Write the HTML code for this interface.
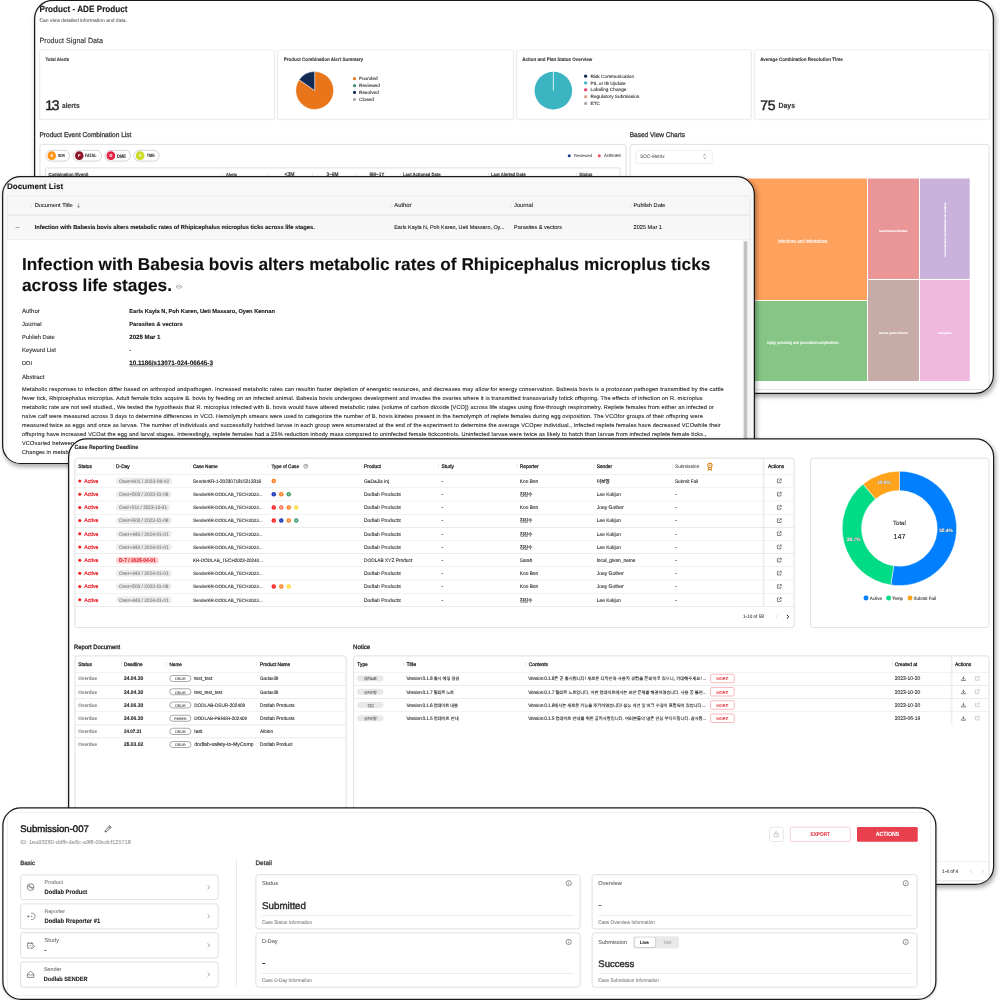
<!DOCTYPE html>
<html lang="en">
<head>
<meta charset="utf-8">
<title>Dashboard overview</title>
<style>
*{margin:0;padding:0}
html,body{width:1000px;height:1000px;overflow:hidden;background:#fff}
body{position:relative;font-family:"Liberation Sans","Noto Sans CJK KR",sans-serif}
main{position:absolute;left:0;top:0;width:4000px;height:4000px;transform:scale(0.25);transform-origin:0 0}

.card{position:absolute;box-sizing:border-box;overflow:hidden;background:#fff;border:5px solid #1a1a1a}
.shadow{position:absolute;box-sizing:border-box}
.in{position:absolute;width:4000px;height:4000px}
.in div,.in svg{position:absolute}
.in svg{overflow:visible}
.t{white-space:nowrap;-webkit-text-stroke:0.4px currentColor;text-rendering:geometricPrecision}
.pcard{background:#fff;border:2.8px solid #e0e0e0;border-radius:8px;box-sizing:border-box;box-shadow:0 2px 5.2px rgba(0,0,0,0.08)}
.pcard2{background:#fff;border:3px solid #d6d6d6;border-radius:12px;box-sizing:border-box}
.chip{background:#fff;border:3px solid #c6c6c6;border-radius:23px;box-sizing:border-box}
</style>
</head>
<body>
<main>
<div class="shadow" style="left:136px;top:-1.2px;width:3840.4px;height:1577.2px;border-radius:76px;box-shadow:4.8px 10px 18px rgba(0,0,0,0.32)"></div>
<section class="card" id="product" style="left:136px;top:-1.2px;width:3840.4px;height:1577.2px;border-radius:76px;background:#fff;border-width:5px"><div class="in" style="left:-141px;top:-3.8px">
<div class="t" style="top:16.4px;font-size:35.864px;line-height:40px;color:#151515;font-weight:700;transform:scaleX(0.9091);transform-origin:0 50%;left:158px;">Product - ADE Product</div>
<div class="t" style="top:69.4px;font-size:20.92px;line-height:23px;color:#6a6a6a;transform:scaleX(0.9524);transform-origin:0 50%;left:158px;">Can view detailed information and data.</div>
<div class="t" style="top:145.4px;font-size:29.984px;line-height:33px;color:#2b2b2b;transform:scaleX(0.9524);transform-origin:0 50%;left:158px;">Product Signal Data</div>
<div class="pcard" style="left:158.4px;top:197.6px;width:939.6px;height:280.4px;"></div>
<div class="pcard" style="left:1110px;top:197.6px;width:943.6px;height:280.4px;"></div>
<div class="pcard" style="left:2065.6px;top:197.6px;width:939.6px;height:280.4px;"></div>
<div class="pcard" style="left:3017.6px;top:197.6px;width:940.4px;height:280.4px;"></div>
<div class="t" style="top:226.4px;font-size:19.428px;line-height:22px;color:#3a3a3a;font-weight:700;transform:scaleX(0.9091);transform-origin:0 50%;left:182.4px;">Total Alerts</div>
<div class="t" style="top:389.4px;font-size:56px;line-height:63px;color:#262626;-webkit-text-stroke:1.8px currentColor;letter-spacing:-5.744px;left:181.2px;">13</div>
<div class="t" style="top:405.4px;font-size:29.348px;line-height:33px;color:#333;font-weight:700;transform:scaleX(0.9091);transform-origin:0 50%;left:247.6px;">alerts</div>
<div class="t" style="top:226.4px;font-size:19.916px;line-height:22px;color:#3a3a3a;font-weight:700;transform:scaleX(0.9091);transform-origin:0 50%;left:1134.8px;">Product Combination Alert Summary</div>
<div class="t" style="top:226.4px;font-size:19.724px;line-height:22px;color:#3a3a3a;font-weight:700;transform:scaleX(0.9091);transform-origin:0 50%;left:2088.8px;">Action and Plan Status Overview</div>
<div class="t" style="top:226.4px;font-size:19.796px;line-height:22px;color:#3a3a3a;font-weight:700;transform:scaleX(0.9091);transform-origin:0 50%;left:3040.8px;">Average Combination Resolution Time</div>
<div class="t" style="top:389.4px;font-size:56px;line-height:63px;color:#262626;-webkit-text-stroke:1.8px currentColor;letter-spacing:-1.144px;left:3041.2px;">75</div>
<div class="t" style="top:404.4px;font-size:30.552px;line-height:34px;color:#333;font-weight:700;transform:scaleX(0.9091);transform-origin:0 50%;left:3114.4px;">Days</div>
<svg style="left:1160px;top:264px" width="200" height="200" viewBox="290 66 50 50"><path d="M314.7 90.5L314.7 71.6A18.9 18.9 0 1 1 299.15 79.76Z" fill="#e8751a" stroke="#fff" stroke-width="0.45"/><path d="M314.7 90.5L299.15 79.76A18.9 18.9 0 0 1 314.7 71.6Z" fill="#132b54" stroke="#fff" stroke-width="0.45"/></svg>
<div style="left:1411.6px;top:308px;width:12.8px;height:12.8px;background:#e8751a;border-radius:50%"></div>
<div class="t" style="top:303.4px;font-size:18.8px;line-height:21px;color:#2e2e2e;letter-spacing:0.12px;left:1436px;">Founded</div>
<div style="left:1411.6px;top:335.72px;width:12.8px;height:12.8px;background:#3d8a6c;border-radius:50%"></div>
<div class="t" style="top:331.4px;font-size:18.8px;line-height:21px;color:#2e2e2e;letter-spacing:0.12px;left:1436px;">Reviewed</div>
<div style="left:1411.6px;top:363.44px;width:12.8px;height:12.8px;background:#132b54;border-radius:50%"></div>
<div class="t" style="top:359.4px;font-size:18.8px;line-height:21px;color:#2e2e2e;letter-spacing:0.12px;left:1436px;">Resolved</div>
<div style="left:1411.6px;top:391.16px;width:12.8px;height:12.8px;background:#a9a9a9;border-radius:50%"></div>
<div class="t" style="top:387.4px;font-size:18.8px;line-height:21px;color:#2e2e2e;letter-spacing:0.12px;left:1436px;">Closed</div>
<svg style="left:2120px;top:264px" width="200" height="200" viewBox="530 66 50 50"><circle cx="553.35" cy="90.6" r="18.8" fill="#3ab5c1"/><path d="M553.35 90.6L553.35 71.8" stroke="#fff" stroke-width="0.8"/></svg>
<div style="left:2336px;top:298px;width:12.8px;height:12.8px;background:#132b54;border-radius:50%"></div>
<div class="t" style="top:295.4px;font-size:18.8px;line-height:21px;color:#2e2e2e;letter-spacing:0.12px;left:2362px;">Risk Communication</div>
<div style="left:2336px;top:325.32px;width:12.8px;height:12.8px;background:#3ab5c1;border-radius:50%"></div>
<div class="t" style="top:323.4px;font-size:18.8px;line-height:21px;color:#2e2e2e;letter-spacing:0.12px;left:2362px;">PIL or IB Update</div>
<div style="left:2336px;top:352.64px;width:12.8px;height:12.8px;background:#f0326e;border-radius:50%"></div>
<div class="t" style="top:347.4px;font-size:18.8px;line-height:21px;color:#2e2e2e;letter-spacing:0.12px;left:2362px;">Labeling Change</div>
<div style="left:2336px;top:379.96px;width:12.8px;height:12.8px;background:#dba58a;border-radius:50%"></div>
<div class="t" style="top:375.4px;font-size:18.8px;line-height:21px;color:#2e2e2e;letter-spacing:0.12px;left:2362px;">Regulatory Submission</div>
<div style="left:2336px;top:407.28px;width:12.8px;height:12.8px;background:#a9a9a9;border-radius:50%"></div>
<div class="t" style="top:403.4px;font-size:18.8px;line-height:21px;color:#2e2e2e;letter-spacing:0.12px;left:2362px;">ETC</div>
<div class="t" style="top:523.4px;font-size:27.556px;line-height:31px;color:#3a3a3a;-webkit-text-stroke:1.2px currentColor;transform:scaleX(0.9524);transform-origin:0 50%;left:158px;">Product Event Combination List</div>
<div class="pcard2" style="left:158.4px;top:576.2px;width:2348px;height:1040px;"></div>
<div class="chip" style="left:180.8px;top:600px;width:98px;height:46px;"></div>
<div style="left:189.6px;top:605.4px;width:34.8px;height:34.8px;background:#ff9416;border-radius:50%"></div>
<div class="t" style="top:614.4px;font-size:16px;line-height:17px;color:#fff;font-weight:700;left:-393px;width:1200px;text-align:center;">S</div>
<div class="t" style="top:613.4px;font-size:16.6px;line-height:19px;color:#333;font-weight:700;transform:scaleX(0.7874);transform-origin:0 50%;left:232px;">SDR</div>
<div class="chip" style="left:290.8px;top:600px;width:116.8px;height:46px;"></div>
<div style="left:299.6px;top:605.4px;width:34.8px;height:34.8px;background:#8e1525;border-radius:50%"></div>
<div class="t" style="top:614.4px;font-size:16px;line-height:17px;color:#fff;font-weight:700;left:-283px;width:1200px;text-align:center;">F</div>
<div class="t" style="top:611.4px;font-size:19.172px;line-height:21px;color:#333;font-weight:700;transform:scaleX(0.7874);transform-origin:0 50%;left:340px;">FATAL</div>
<div class="chip" style="left:417.6px;top:600px;width:106.4px;height:46px;"></div>
<div style="left:426.4px;top:605.4px;width:34.8px;height:34.8px;background:#e42546;border-radius:50%"></div>
<div class="t" style="top:614.4px;font-size:16px;line-height:17px;color:#fff;font-weight:700;left:-156.2px;width:1200px;text-align:center;">D</div>
<div class="t" style="top:614.4px;font-size:20.344px;line-height:22px;color:#333;font-weight:700;transform:scaleX(0.7874);transform-origin:0 50%;left:468.4px;">DME</div>
<div class="chip" style="left:534.4px;top:600px;width:104px;height:46px;"></div>
<div style="left:543.2px;top:605.4px;width:34.8px;height:34.8px;background:#cddb2a;border-radius:50%"></div>
<div class="t" style="top:614.4px;font-size:16px;line-height:17px;color:#fff;font-weight:700;left:-39.4px;width:1200px;text-align:center;">T</div>
<div class="t" style="top:611.4px;font-size:19.252px;line-height:21px;color:#333;font-weight:700;transform:scaleX(0.7874);transform-origin:0 50%;left:587.2px;">TME</div>
<div style="left:2271.2px;top:617.2px;width:12px;height:12px;background:#1c3f94;border-radius:50%"></div>
<div class="t" style="top:612.4px;font-size:17.216px;line-height:20px;color:#555;transform:scaleX(0.9524);transform-origin:0 50%;left:2296px;">Reviewed</div>
<div style="left:2391.2px;top:617.2px;width:12px;height:12px;background:#ef4a5f;border-radius:50%"></div>
<div class="t" style="top:612.4px;font-size:17.916px;line-height:20px;color:#555;transform:scaleX(0.9524);transform-origin:0 50%;left:2416px;">Actioned</div>
<div class="pcard2" style="left:181.2px;top:669.6px;width:2301.2px;height:920px;border-radius:6px"></div>
<div class="t" style="top:688.4px;font-size:17.956px;line-height:20px;color:#333;font-weight:700;transform:scaleX(0.9091);transform-origin:0 50%;left:194.4px;">Combination (Event)</div>
<div class="t" style="top:689.4px;font-size:17.076px;line-height:19px;color:#333;font-weight:700;transform:scaleX(0.9091);transform-origin:0 50%;left:904px;">Alerts</div>
<div class="t" style="top:684.4px;font-size:22.3px;line-height:25px;color:#333;font-weight:700;transform:scaleX(0.9091);transform-origin:0 50%;left:1138px;">&lt;3M</div>
<div class="t" style="top:685.4px;font-size:20.876px;line-height:23px;color:#333;font-weight:700;transform:scaleX(0.9091);transform-origin:0 50%;left:1306px;">3~6M</div>
<div class="t" style="top:685.4px;font-size:20.648px;line-height:23px;color:#333;font-weight:700;transform:scaleX(0.9091);transform-origin:0 50%;left:1478px;">6M~1Y</div>
<div class="t" style="top:687.4px;font-size:18.292px;line-height:21px;color:#333;font-weight:700;transform:scaleX(0.9091);transform-origin:0 50%;left:1612px;">Last Actioned Date</div>
<div class="t" style="top:687.4px;font-size:18.54px;line-height:21px;color:#333;font-weight:700;transform:scaleX(0.9091);transform-origin:0 50%;left:1964px;">Last Alerted Date</div>
<div class="t" style="top:687.4px;font-size:19.004px;line-height:21px;color:#333;font-weight:700;transform:scaleX(0.9091);transform-origin:0 50%;left:2317.2px;">Status</div>
<div style="left:889px;top:692.8px;width:2px;height:16px;background:#d8d8d8"></div>
<div style="left:1069px;top:692.8px;width:2px;height:16px;background:#d8d8d8"></div>
<div style="left:1249px;top:692.8px;width:2px;height:16px;background:#d8d8d8"></div>
<div style="left:1421px;top:692.8px;width:2px;height:16px;background:#d8d8d8"></div>
<div style="left:1601px;top:692.8px;width:2px;height:16px;background:#d8d8d8"></div>
<div style="left:1953px;top:692.8px;width:2px;height:16px;background:#d8d8d8"></div>
<div style="left:2304.2px;top:692.8px;width:2px;height:16px;background:#d8d8d8"></div>
<div class="t" style="top:523.4px;font-size:27.32px;line-height:31px;color:#3a3a3a;-webkit-text-stroke:1.2px currentColor;transform:scaleX(0.9524);transform-origin:0 50%;left:2519.2px;">Based View Charts</div>
<div class="pcard2" style="left:2519.2px;top:576.2px;width:1438.8px;height:983.6px;"></div>
<div style="left:2541.6px;top:600.8px;width:304.8px;height:50.4px;border:2px solid #dcdcdc;border-radius:10px;background:#fff"></div>
<div class="t" style="top:614.4px;font-size:19.544px;line-height:22px;color:#666;transform:scaleX(0.9524);transform-origin:0 50%;left:2560.8px;">SOC-Metrix</div>
<svg style="left:2809.6px;top:613.2px" width="17.6" height="25.6" viewBox="0 0 4.4 6.4"><path d="M0.9 2.3L2.2 0.9L3.5 2.3M0.9 4.1L2.2 5.5L3.5 4.1" fill="none" stroke="#555" stroke-width="0.55"/></svg>
<div style="left:2560px;top:714px;width:907.6px;height:485.6px;background:#fda15c"></div>
<div class="t" style="top:954.4px;font-size:20.204px;line-height:22px;color:#fff;transform:scaleX(0.8475);transform-origin:0 50%;left:3112px;">Infections and infestations</div>
<div style="left:2560px;top:1203.6px;width:907.6px;height:320.4px;background:#86c586"></div>
<div class="t" style="top:1361.4px;font-size:16.512px;line-height:19px;color:#fff;transform:scaleX(0.8475);transform-origin:0 50%;left:3068px;">Injury, poisoning and procedural complications</div>
<div style="left:3471.6px;top:714px;width:204px;height:402.4px;background:#ea9696"></div>
<div class="t" style="top:917.4px;font-size:11.904px;line-height:14px;color:#fff;transform:scaleX(0.8475);transform-origin:0 50%;left:3516px;">Gastrointestinal disorders</div>
<div style="left:3471.6px;top:1120.4px;width:204px;height:403.6px;background:#c7aba6"></div>
<div class="t" style="top:1325.4px;font-size:11.8px;line-height:14px;color:#fff;transform:scaleX(0.8475);transform-origin:0 50%;left:3516px;">Nervous system disorders</div>
<div style="left:3680px;top:714px;width:199.2px;height:402.4px;background:#c9b3dd"></div>
<div style="left:3680px;top:1120.4px;width:199.2px;height:403.6px;background:#f0b8df"></div>
<div class="t" style="top:1326.4px;font-size:10.496px;line-height:12px;color:#fff;transform:scaleX(0.8475);transform-origin:0 50%;left:3752px;">Investigations</div>
<div class="t" style="left:3659.6px;top:910px;width:240px;height:16px;line-height:16px;font-size:9.4px;color:#fff;text-align:center;transform:rotate(-90deg)">General disorders and administration site conditions</div>
</div></section>
<div class="shadow" style="left:8px;top:703.6px;width:3012px;height:1152px;border-radius:74px;box-shadow:4.8px 10px 18px rgba(0,0,0,0.32)"></div>
<section class="card" id="documents" style="left:8px;top:703.6px;width:3012px;height:1152px;border-radius:74px;background:#f8f8f8;border-width:5px"><div class="in" style="left:-13px;top:-708.6px">
<div class="t" style="top:727.4px;font-size:32.368px;line-height:36px;color:#161616;font-weight:700;left:28px;">Document List</div>
<div style="left:28px;top:782px;width:2972.8px;height:1200px;background:#f7f7f7;border:2.8px solid #e0e0e0;border-radius:6px;box-sizing:border-box"></div>
<div style="left:28px;top:859px;width:2972.8px;height:2.8px;background:#dcdcdc"></div>
<div style="left:28px;top:956.6px;width:2972.8px;height:2.8px;background:#dcdcdc"></div>
<div style="left:123px;top:813.6px;width:2px;height:18.4px;background:#d4d4d4"></div>
<div style="left:1561px;top:813.6px;width:2px;height:18.4px;background:#d4d4d4"></div>
<div style="left:2040px;top:813.6px;width:2px;height:18.4px;background:#d4d4d4"></div>
<div style="left:2520px;top:813.6px;width:2px;height:18.4px;background:#d4d4d4"></div>
<div class="t" style="top:807.4px;font-size:22.848px;line-height:26px;color:#1c1c1c;left:138.8px;">Document Title</div>
<svg style="left:305.2px;top:812.8px" width="18.4" height="20" viewBox="0 0 4.6 5"><path d="M2.3 0.5V4.3M0.7 2.8L2.3 4.4L3.9 2.8" fill="none" stroke="#555" stroke-width="0.5"/></svg>
<div class="t" style="top:807.4px;font-size:23.42px;line-height:26px;color:#1c1c1c;left:1577px;">Author</div>
<div class="t" style="top:807.4px;font-size:23.172px;line-height:26px;color:#1c1c1c;left:2056px;">Journal</div>
<div class="t" style="top:808.4px;font-size:22.576px;line-height:25px;color:#1c1c1c;left:2534px;">Publish Date</div>
<div style="left:62px;top:909px;width:16px;height:2px;background:#555"></div>
<div class="t" style="top:895.4px;font-size:22.928px;line-height:26px;color:#161616;font-weight:700;left:138.8px;">Infection with Babesia bovis alters metabolic rates of Rhipicephalus microplus ticks across life stages.</div>
<div class="t" style="top:896.4px;font-size:21.64px;line-height:25px;color:#1c1c1c;left:1577px;">Earls Kayla N, Poh Karen, Ueti Massaro, Oy...</div>
<div class="t" style="top:896.4px;font-size:22.288px;line-height:25px;color:#1c1c1c;left:2056px;">Parasites &amp; vectors</div>
<div class="t" style="top:896.4px;font-size:22.536px;line-height:25px;color:#1c1c1c;left:2534px;">2025 Mar 1</div>
<div style="left:29.2px;top:959.2px;width:2970.4px;height:1040px;background:#fff"></div>
<div style="left:2969.6px;top:959.2px;width:30px;height:1040px;background:#f3f3f3"></div>
<div style="left:2974.8px;top:964px;width:14.4px;height:1040px;background:#c1c1c1;border-radius:7.2px"></div>
<div class="t" style="top:1018.4px;font-size:68.928px;line-height:77px;color:#101010;font-weight:700;left:88px;">Infection with Babesia bovis alters metabolic rates of Rhipicephalus microplus ticks</div>
<div class="t" style="top:1101.4px;font-size:69.192px;line-height:78px;color:#101010;font-weight:700;left:88px;">across life stages.</div>
<svg style="left:700px;top:1136.8px" width="32" height="20" viewBox="0 0 8 5"><path d="M3.2 0.7L0.9 2.5L3.2 4.3M4.8 0.7L7.1 2.5L4.8 4.3M3.1 2.5H4.9" fill="none" stroke="#777" stroke-width="0.6" stroke-linecap="round" stroke-linejoin="round"/></svg>
<div class="t" style="top:1230.4px;font-size:24.096px;line-height:27px;color:#2c2c2c;left:88px;">Author</div>
<div class="t" style="top:1231.4px;font-size:22.656px;line-height:26px;color:#151515;font-weight:700;left:517px;">Earls Kayla N, Poh Karen, Ueti Massaro, Oyen Kennan</div>
<div class="t" style="top:1282.4px;font-size:23.78px;line-height:27px;color:#2c2c2c;left:88px;">Journal</div>
<div class="t" style="top:1283.4px;font-size:23.052px;line-height:26px;color:#151515;font-weight:700;left:517px;">Parasites &amp; vectors</div>
<div class="t" style="top:1335.4px;font-size:23.104px;line-height:26px;color:#2c2c2c;left:88px;">Publish Date</div>
<div class="t" style="top:1334.4px;font-size:24.44px;line-height:27px;color:#151515;font-weight:700;left:517px;">2025 Mar 1</div>
<div class="t" style="top:1387.4px;font-size:23.756px;line-height:26px;color:#2c2c2c;left:88px;">Keyword List</div>
<div class="t" style="top:1387.4px;font-size:22.8px;line-height:26px;color:#151515;font-weight:700;left:517px;">-</div>
<div class="t" style="top:1440.4px;font-size:22.5px;line-height:25px;color:#2c2c2c;left:88px;">DOI</div>
<div class="t" style="top:1437.4px;font-size:25.42px;line-height:28px;color:#151515;font-weight:700;left:517px;text-decoration:underline;text-decoration-thickness:1.8px;text-underline-offset:4.4px;">10.1186/s13071-024-06645-3</div>
<div class="t" style="top:1494.4px;font-size:24.536px;line-height:27px;color:#2c2c2c;left:88px;">Abstract</div>
<div class="t" style="top:1544.4px;font-size:22.2px;line-height:25px;color:#1f1f1f;letter-spacing:0.736px;left:88px;">Metabolic responses to infection differ based on arthropod andpathogen. Increased metabolic rates can resultin faster depletion of energetic resources, and decreases may allow for energy conservation. Babesia bovis is a protozoan pathogen transmitted by the cattle</div>
<div class="t" style="top:1580.4px;font-size:22.2px;line-height:25px;color:#1f1f1f;letter-spacing:0.64px;left:88px;">fever tick, Rhipicephalus microplus. Adult female ticks acquire B. bovis by feeding on an infected animal. Babesia bovis undergoes development and invades the ovaries where it is transmitted transovarially totick offspring. The effects of infection on R. microplus</div>
<div class="t" style="top:1616.4px;font-size:22.2px;line-height:25px;color:#1f1f1f;letter-spacing:0.66px;left:88px;">metabolic rate are not well studied., We tested the hypothesis that R. microplus infected with B. bovis would have altered metabolic rates (volume of carbon dioxide [VCO]) across life stages using flow-through respirometry. Replete females from either an infected or</div>
<div class="t" style="top:1652.4px;font-size:22.2px;line-height:25px;color:#1f1f1f;letter-spacing:0.632px;left:88px;">naïve calf were measured across 3 days to determine differences in VCO. Hemolymph smears were used to categorize the number of B. bovis kinetes present in the hemolymph of replete females during egg oviposition. The VCOfor groups of their offspring were</div>
<div class="t" style="top:1688.4px;font-size:22.2px;line-height:25px;color:#1f1f1f;letter-spacing:0.628px;left:88px;">measured twice as eggs and once as larvae. The number of individuals and successfully hatched larvae in each group were enumerated at the end of the experiment to determine the average VCOper individual., Infected replete females have decreased VCOwhile their</div>
<div class="t" style="top:1724.4px;font-size:22.2px;line-height:25px;color:#1f1f1f;letter-spacing:0.696px;left:88px;">offspring have increased VCOat the egg and larval stages. Interestingly, replete females had a 25% reduction inbody mass compared to uninfected female tickcontrols. Uninfected larvae were twice as likely to hatch than larvae from infected replete female ticks.,</div>
<div class="t" style="top:1760.4px;font-size:22.2px;line-height:25px;color:#1f1f1f;letter-spacing:0.62px;left:88px;">VCOvaried between</div>
<div class="t" style="top:1796.4px;font-size:22.2px;line-height:25px;color:#1f1f1f;letter-spacing:0.424px;left:88px;">Changes in metabolic</div>
</div></section>
<div class="shadow" style="left:272px;top:1753.2px;width:3704.8px;height:1787.2px;border-radius:74px;box-shadow:4.8px 10px 18px rgba(0,0,0,0.32)"></div>
<section class="card" id="cases" style="left:272px;top:1753.2px;width:3704.8px;height:1787.2px;border-radius:74px;background:#fff;border-width:5px"><div class="in" style="left:-277px;top:-1758.2px">
<div class="t" style="top:1775.4px;font-size:23.716px;line-height:26px;color:#2a2a2a;font-weight:700;transform:scaleX(0.9091);transform-origin:0 50%;left:298px;">Case Reporting Deadline</div>
<div class="pcard2" style="left:298px;top:1831.2px;width:2880px;height:680.4px;"></div>
<div class="t" style="top:1854.4px;font-size:20.372px;line-height:22px;color:#1e1e1e;-webkit-text-stroke:1px currentColor;transform:scaleX(0.9524);transform-origin:0 50%;left:313px;">Status</div>
<div class="t" style="top:1853.4px;font-size:20.456px;line-height:23px;color:#1e1e1e;-webkit-text-stroke:1px currentColor;transform:scaleX(0.9524);transform-origin:0 50%;left:463.6px;">D-Day</div>
<div class="t" style="top:1854.4px;font-size:19.488px;line-height:22px;color:#1e1e1e;-webkit-text-stroke:1px currentColor;transform:scaleX(0.9524);transform-origin:0 50%;left:772px;">Case Name</div>
<div class="t" style="top:1854.4px;font-size:19.604px;line-height:22px;color:#1e1e1e;-webkit-text-stroke:1px currentColor;transform:scaleX(0.9524);transform-origin:0 50%;left:1086px;">Type of Case</div>
<div class="t" style="top:1853.4px;font-size:20.716px;line-height:23px;color:#1e1e1e;-webkit-text-stroke:1px currentColor;transform:scaleX(0.9524);transform-origin:0 50%;left:1456px;">Product</div>
<div class="t" style="top:1853.4px;font-size:20.532px;line-height:23px;color:#1e1e1e;-webkit-text-stroke:1px currentColor;transform:scaleX(0.9524);transform-origin:0 50%;left:1766px;">Study</div>
<div class="t" style="top:1854.4px;font-size:20.24px;line-height:22px;color:#1e1e1e;-webkit-text-stroke:1px currentColor;transform:scaleX(0.9524);transform-origin:0 50%;left:2079px;">Reporter</div>
<div class="t" style="top:1854.4px;font-size:19.86px;line-height:22px;color:#1e1e1e;-webkit-text-stroke:1px currentColor;transform:scaleX(0.9524);transform-origin:0 50%;left:2387px;">Sender</div>
<div class="t" style="top:1854.4px;font-size:19.744px;line-height:22px;color:#555;transform:scaleX(0.9524);transform-origin:0 50%;left:2700px;">Submission</div>
<div class="t" style="top:1853.4px;font-size:20.748px;line-height:23px;color:#222;-webkit-text-stroke:1px currentColor;transform:scaleX(0.9524);transform-origin:0 50%;left:3072px;">Actions</div>
<div style="left:454px;top:1856.8px;width:2px;height:16.8px;background:#d6d6d6"></div>
<div style="left:762px;top:1856.8px;width:2px;height:16.8px;background:#d6d6d6"></div>
<div style="left:1071px;top:1856.8px;width:2px;height:16.8px;background:#d6d6d6"></div>
<div style="left:1445px;top:1856.8px;width:2px;height:16.8px;background:#d6d6d6"></div>
<div style="left:1753px;top:1856.8px;width:2px;height:16.8px;background:#d6d6d6"></div>
<div style="left:2067px;top:1856.8px;width:2px;height:16.8px;background:#d6d6d6"></div>
<div style="left:2375px;top:1856.8px;width:2px;height:16.8px;background:#d6d6d6"></div>
<div style="left:2689px;top:1856.8px;width:2px;height:16.8px;background:#d6d6d6"></div>
<svg style="left:1212.8px;top:1855.2px" width="20" height="20" viewBox="0 0 10 10"><circle cx="5" cy="5" r="4" fill="none" stroke="#555" stroke-width="1"/><path d="M3.8 4A1.3 1.3 0 1 1 5 5.3V6.2M5 7.3V7.9" fill="none" stroke="#555" stroke-width="1"/></svg>
<svg style="left:2824.8px;top:1849.2px" width="28.8" height="34.4" viewBox="0 0 12 14"><circle cx="6" cy="5" r="3.7" fill="none" stroke="#de8a26" stroke-width="1.8"/><circle cx="6" cy="5" r="1.3" fill="#de8a26"/><path d="M3.6 8.2V13L6 11.3L8.4 13V8.2" fill="none" stroke="#de8a26" stroke-width="1.7"/></svg>
<div style="left:299.2px;top:1896px;width:2877.6px;height:2.4px;background:#e4e4e4"></div>
<div style="left:299.2px;top:1950px;width:2877.6px;height:2.4px;background:#e4e4e4"></div>
<div style="left:299.2px;top:2002.8px;width:2877.6px;height:2.4px;background:#e4e4e4"></div>
<div style="left:299.2px;top:2055.8px;width:2877.6px;height:2.4px;background:#e4e4e4"></div>
<div style="left:299.2px;top:2108.4px;width:2877.6px;height:2.4px;background:#e4e4e4"></div>
<div style="left:299.2px;top:2160.8px;width:2877.6px;height:2.4px;background:#e4e4e4"></div>
<div style="left:299.2px;top:2213.2px;width:2877.6px;height:2.4px;background:#e4e4e4"></div>
<div style="left:299.2px;top:2266px;width:2877.6px;height:2.4px;background:#e4e4e4"></div>
<div style="left:299.2px;top:2318.8px;width:2877.6px;height:2.4px;background:#e4e4e4"></div>
<div style="left:299.2px;top:2371.6px;width:2877.6px;height:2.4px;background:#e4e4e4"></div>
<div style="left:299.2px;top:2424.4px;width:2877.6px;height:2.4px;background:#e4e4e4"></div>
<div style="left:3054.4px;top:1834.4px;width:2.4px;height:591.2px;background:#e0e0e0;box-shadow:-4.8px 0 8px rgba(0,0,0,0.05)"></div>
<div style="left:313.2px;top:1918px;width:12px;height:12px;background:#f01818;border-radius:50%"></div>
<div class="t" style="top:1912.4px;font-size:21.748px;line-height:25px;color:#e91c24;-webkit-text-stroke:0.88px currentColor;transform:scaleX(0.9524);transform-origin:0 50%;left:336.8px;">Active</div>
<div style="left:464px;top:1910.8px;width:225.2px;height:26.4px;background:#ececec;border-radius:13.2px"></div>
<div class="t" style="top:1914.4px;font-size:20.376px;line-height:22px;color:#7a7a7a;transform:scaleX(0.9524);transform-origin:0 50%;left:476px;">Over+601 / 2023-08-02</div>
<div class="t" style="top:1914.4px;font-size:19.44px;line-height:22px;color:#2a2a2a;transform:scaleX(0.9524);transform-origin:0 50%;left:772px;">SenderKR-1-2023071815213316</div>
<svg style="left:1085px;top:1914px" width="20" height="20" viewBox="0 0 5 5"><circle cx="2.5" cy="2.5" r="2.25" fill="#ff7a1f"/><circle cx="2.5" cy="2.5" r="0.95" fill="#ffc58f"/></svg>
<div class="t" style="top:1913.4px;font-size:20.536px;line-height:23px;color:#2a2a2a;transform:scaleX(0.9524);transform-origin:0 50%;left:1456px;">GaDaJis inj</div>
<div class="t" style="top:1913.4px;font-size:20.8px;line-height:23px;color:#2a2a2a;left:1766px;">-</div>
<div class="t" style="top:1914.4px;font-size:20.196px;line-height:22px;color:#2a2a2a;transform:scaleX(0.9524);transform-origin:0 50%;left:2079px;font-family:'Liberation Sans','Noto Sans CJK KR',sans-serif;">Koo Bon</div>
<div class="t" style="top:1915.4px;font-size:19.2px;line-height:21px;color:#2a2a2a;-webkit-text-stroke:0.72px currentColor;letter-spacing:-0.664px;left:2387px;font-family:'Liberation Sans','Noto Sans CJK KR',sans-serif;">이보영</div>
<div class="t" style="top:1914.4px;font-size:19.564px;line-height:22px;color:#2a2a2a;transform:scaleX(0.9524);transform-origin:0 50%;left:2700px;">Submit Fail</div>
<svg style="left:3106.2px;top:1913.2px" width="21.6" height="21.6" viewBox="0 0 10 10"><path d="M4.4 1.7H1.7V8.3H8.3V5.6M5.9 1.3H8.7V4.1M8.5 1.5L4.7 5.3" fill="none" stroke="#444" stroke-width="1.2"/></svg>
<div style="left:313.2px;top:1971px;width:12px;height:12px;background:#f01818;border-radius:50%"></div>
<div class="t" style="top:1964.4px;font-size:21.748px;line-height:25px;color:#e91c24;-webkit-text-stroke:0.88px currentColor;transform:scaleX(0.9524);transform-origin:0 50%;left:336.8px;">Active</div>
<div style="left:464px;top:1963.8px;width:222px;height:26.4px;background:#ececec;border-radius:13.2px"></div>
<div class="t" style="top:1966.4px;font-size:20.196px;line-height:22px;color:#7a7a7a;transform:scaleX(0.9524);transform-origin:0 50%;left:476px;">Over+503 / 2023-11-08</div>
<div class="t" style="top:1967.4px;font-size:18.96px;line-height:21px;color:#2a2a2a;transform:scaleX(0.9524);transform-origin:0 50%;left:772px;">SenderKR-DODLAB_TECH2023...</div>
<svg style="left:1085px;top:1967px" width="20" height="20" viewBox="0 0 5 5"><circle cx="2.5" cy="2.5" r="2.25" fill="#2239b8"/><circle cx="2.5" cy="2.5" r="0.95" fill="#5468d6"/></svg>
<svg style="left:1115px;top:1967px" width="20" height="20" viewBox="0 0 5 5"><circle cx="2.5" cy="2.5" r="2.25" fill="#ff7a1f"/><circle cx="2.5" cy="2.5" r="0.95" fill="#ffc58f"/></svg>
<svg style="left:1145px;top:1967px" width="20" height="20" viewBox="0 0 5 5"><circle cx="2.5" cy="2.5" r="2.25" fill="#3f9a6b"/><circle cx="2.5" cy="2.5" r="0.95" fill="#9ad3b3"/></svg>
<div class="t" style="top:1965.4px;font-size:20.904px;line-height:23px;color:#2a2a2a;transform:scaleX(0.9524);transform-origin:0 50%;left:1456px;">Dodlab Products</div>
<div class="t" style="top:1965.4px;font-size:20.8px;line-height:23px;color:#2a2a2a;left:1766px;">-</div>
<div class="t" style="top:1967.4px;font-size:19.2px;line-height:21px;color:#2a2a2a;-webkit-text-stroke:0.72px currentColor;letter-spacing:-1.332px;left:2079px;font-family:'Liberation Sans','Noto Sans CJK KR',sans-serif;">김길수</div>
<div class="t" style="top:1966.4px;font-size:20.352px;line-height:22px;color:#2a2a2a;transform:scaleX(0.9524);transform-origin:0 50%;left:2387px;font-family:'Liberation Sans','Noto Sans CJK KR',sans-serif;">Lee Kukjun</div>
<div class="t" style="top:1965.4px;font-size:20.8px;line-height:23px;color:#2a2a2a;left:2700px;">-</div>
<svg style="left:3106.2px;top:1966.2px" width="21.6" height="21.6" viewBox="0 0 10 10"><path d="M4.4 1.7H1.7V8.3H8.3V5.6M5.9 1.3H8.7V4.1M8.5 1.5L4.7 5.3" fill="none" stroke="#444" stroke-width="1.2"/></svg>
<div style="left:313.2px;top:2024px;width:12px;height:12px;background:#f01818;border-radius:50%"></div>
<div class="t" style="top:2016.4px;font-size:21.748px;line-height:25px;color:#e91c24;-webkit-text-stroke:0.88px currentColor;transform:scaleX(0.9524);transform-origin:0 50%;left:336.8px;">Active</div>
<div style="left:464px;top:2016.8px;width:216px;height:26.4px;background:#ececec;border-radius:13.2px"></div>
<div class="t" style="top:2018.4px;font-size:19.584px;line-height:22px;color:#7a7a7a;transform:scaleX(0.9524);transform-origin:0 50%;left:476px;">Over+511 / 2023-10-31</div>
<div class="t" style="top:2019.4px;font-size:18.96px;line-height:21px;color:#2a2a2a;transform:scaleX(0.9524);transform-origin:0 50%;left:772px;">SenderKR-DODLAB_TECH2023...</div>
<svg style="left:1085px;top:2020px" width="20" height="20" viewBox="0 0 5 5"><circle cx="2.5" cy="2.5" r="2.25" fill="#ff1f1f"/><circle cx="2.5" cy="2.5" r="0.95" fill="#ff6a6a"/></svg>
<svg style="left:1115px;top:2020px" width="20" height="20" viewBox="0 0 5 5"><circle cx="2.5" cy="2.5" r="2.25" fill="#ff6446"/><circle cx="2.5" cy="2.5" r="0.95" fill="#ffd0c4"/></svg>
<svg style="left:1145px;top:2020px" width="20" height="20" viewBox="0 0 5 5"><circle cx="2.5" cy="2.5" r="2.25" fill="#ff7a1f"/><circle cx="2.5" cy="2.5" r="0.95" fill="#ffc58f"/></svg>
<svg style="left:1175px;top:2020px" width="20" height="20" viewBox="0 0 5 5"><circle cx="2.5" cy="2.5" r="2.25" fill="#ffd83a"/><circle cx="2.5" cy="2.5" r="0.95" fill="#ffef9c"/></svg>
<div class="t" style="top:2017.4px;font-size:20.904px;line-height:23px;color:#2a2a2a;transform:scaleX(0.9524);transform-origin:0 50%;left:1456px;">Dodlab Products</div>
<div class="t" style="top:2017.4px;font-size:20.8px;line-height:23px;color:#2a2a2a;left:1766px;">-</div>
<div class="t" style="top:2018.4px;font-size:20.196px;line-height:22px;color:#2a2a2a;transform:scaleX(0.9524);transform-origin:0 50%;left:2079px;font-family:'Liberation Sans','Noto Sans CJK KR',sans-serif;">Koo Bon</div>
<div class="t" style="top:2017.4px;font-size:20.78px;line-height:23px;color:#2a2a2a;transform:scaleX(0.9524);transform-origin:0 50%;left:2387px;font-family:'Liberation Sans','Noto Sans CJK KR',sans-serif;">Joey Gother</div>
<div class="t" style="top:2017.4px;font-size:20.8px;line-height:23px;color:#2a2a2a;left:2700px;">-</div>
<svg style="left:3106.2px;top:2019.2px" width="21.6" height="21.6" viewBox="0 0 10 10"><path d="M4.4 1.7H1.7V8.3H8.3V5.6M5.9 1.3H8.7V4.1M8.5 1.5L4.7 5.3" fill="none" stroke="#444" stroke-width="1.2"/></svg>
<div style="left:313.2px;top:2076.4px;width:12px;height:12px;background:#f01818;border-radius:50%"></div>
<div class="t" style="top:2068.4px;font-size:21.748px;line-height:25px;color:#e91c24;-webkit-text-stroke:0.88px currentColor;transform:scaleX(0.9524);transform-origin:0 50%;left:336.8px;">Active</div>
<div style="left:464px;top:2069.2px;width:222px;height:26.4px;background:#ececec;border-radius:13.2px"></div>
<div class="t" style="top:2070.4px;font-size:20.196px;line-height:22px;color:#7a7a7a;transform:scaleX(0.9524);transform-origin:0 50%;left:476px;">Over+503 / 2023-11-08</div>
<div class="t" style="top:2071.4px;font-size:18.96px;line-height:21px;color:#2a2a2a;transform:scaleX(0.9524);transform-origin:0 50%;left:772px;">SenderKR-DODLAB_TECH2023...</div>
<svg style="left:1085px;top:2072.4px" width="20" height="20" viewBox="0 0 5 5"><circle cx="2.5" cy="2.5" r="2.25" fill="#ff1f1f"/><circle cx="2.5" cy="2.5" r="0.95" fill="#ff6a6a"/></svg>
<svg style="left:1115px;top:2072.4px" width="20" height="20" viewBox="0 0 5 5"><circle cx="2.5" cy="2.5" r="2.25" fill="#2239b8"/><circle cx="2.5" cy="2.5" r="0.95" fill="#5468d6"/></svg>
<svg style="left:1145px;top:2072.4px" width="20" height="20" viewBox="0 0 5 5"><circle cx="2.5" cy="2.5" r="2.25" fill="#ff7a1f"/><circle cx="2.5" cy="2.5" r="0.95" fill="#ffc58f"/></svg>
<svg style="left:1175px;top:2072.4px" width="20" height="20" viewBox="0 0 5 5"><circle cx="2.5" cy="2.5" r="2.25" fill="#3f9a6b"/><circle cx="2.5" cy="2.5" r="0.95" fill="#9ad3b3"/></svg>
<div class="t" style="top:2069.4px;font-size:20.904px;line-height:23px;color:#2a2a2a;transform:scaleX(0.9524);transform-origin:0 50%;left:1456px;">Dodlab Products</div>
<div class="t" style="top:2069.4px;font-size:20.8px;line-height:23px;color:#2a2a2a;left:1766px;">-</div>
<div class="t" style="top:2071.4px;font-size:19.2px;line-height:21px;color:#2a2a2a;-webkit-text-stroke:0.72px currentColor;letter-spacing:-1.332px;left:2079px;font-family:'Liberation Sans','Noto Sans CJK KR',sans-serif;">김길수</div>
<div class="t" style="top:2070.4px;font-size:20.352px;line-height:22px;color:#2a2a2a;transform:scaleX(0.9524);transform-origin:0 50%;left:2387px;font-family:'Liberation Sans','Noto Sans CJK KR',sans-serif;">Lee Kukjun</div>
<div class="t" style="top:2069.4px;font-size:20.8px;line-height:23px;color:#2a2a2a;left:2700px;">-</div>
<svg style="left:3106.2px;top:2071.6px" width="21.6" height="21.6" viewBox="0 0 10 10"><path d="M4.4 1.7H1.7V8.3H8.3V5.6M5.9 1.3H8.7V4.1M8.5 1.5L4.7 5.3" fill="none" stroke="#444" stroke-width="1.2"/></svg>
<div style="left:313.2px;top:2129.2px;width:12px;height:12px;background:#f01818;border-radius:50%"></div>
<div class="t" style="top:2124.4px;font-size:21.748px;line-height:25px;color:#e91c24;-webkit-text-stroke:0.88px currentColor;transform:scaleX(0.9524);transform-origin:0 50%;left:336.8px;">Active</div>
<div style="left:464px;top:2122px;width:222.8px;height:26.4px;background:#ececec;border-radius:13.2px"></div>
<div class="t" style="top:2126.4px;font-size:20.132px;line-height:22px;color:#7a7a7a;transform:scaleX(0.9524);transform-origin:0 50%;left:476px;">Over+449 / 2024-01-01</div>
<div class="t" style="top:2127.4px;font-size:18.96px;line-height:21px;color:#2a2a2a;transform:scaleX(0.9524);transform-origin:0 50%;left:772px;">SenderKR-DODLAB_TECH2023...</div>
<div class="t" style="top:2125.4px;font-size:20.904px;line-height:23px;color:#2a2a2a;transform:scaleX(0.9524);transform-origin:0 50%;left:1456px;">Dodlab Products</div>
<div class="t" style="top:2125.4px;font-size:20.8px;line-height:23px;color:#2a2a2a;left:1766px;">-</div>
<div class="t" style="top:2127.4px;font-size:19.2px;line-height:21px;color:#2a2a2a;-webkit-text-stroke:0.72px currentColor;letter-spacing:-1.332px;left:2079px;font-family:'Liberation Sans','Noto Sans CJK KR',sans-serif;">김길수</div>
<div class="t" style="top:2126.4px;font-size:20.352px;line-height:22px;color:#2a2a2a;transform:scaleX(0.9524);transform-origin:0 50%;left:2387px;font-family:'Liberation Sans','Noto Sans CJK KR',sans-serif;">Lee Kukjun</div>
<div class="t" style="top:2125.4px;font-size:20.8px;line-height:23px;color:#2a2a2a;left:2700px;">-</div>
<svg style="left:3106.2px;top:2124.4px" width="21.6" height="21.6" viewBox="0 0 10 10"><path d="M4.4 1.7H1.7V8.3H8.3V5.6M5.9 1.3H8.7V4.1M8.5 1.5L4.7 5.3" fill="none" stroke="#444" stroke-width="1.2"/></svg>
<div style="left:313.2px;top:2182px;width:12px;height:12px;background:#f01818;border-radius:50%"></div>
<div class="t" style="top:2176.4px;font-size:21.748px;line-height:25px;color:#e91c24;-webkit-text-stroke:0.88px currentColor;transform:scaleX(0.9524);transform-origin:0 50%;left:336.8px;">Active</div>
<div style="left:464px;top:2174.8px;width:222.8px;height:26.4px;background:#ececec;border-radius:13.2px"></div>
<div class="t" style="top:2178.4px;font-size:20.132px;line-height:22px;color:#7a7a7a;transform:scaleX(0.9524);transform-origin:0 50%;left:476px;">Over+449 / 2024-01-01</div>
<div class="t" style="top:2179.4px;font-size:18.96px;line-height:21px;color:#2a2a2a;transform:scaleX(0.9524);transform-origin:0 50%;left:772px;">SenderKR-DODLAB_TECH2023...</div>
<div class="t" style="top:2177.4px;font-size:20.904px;line-height:23px;color:#2a2a2a;transform:scaleX(0.9524);transform-origin:0 50%;left:1456px;">Dodlab Products</div>
<div class="t" style="top:2177.4px;font-size:20.8px;line-height:23px;color:#2a2a2a;left:1766px;">-</div>
<div class="t" style="top:2179.4px;font-size:19.2px;line-height:21px;color:#2a2a2a;-webkit-text-stroke:0.72px currentColor;letter-spacing:-1.332px;left:2079px;font-family:'Liberation Sans','Noto Sans CJK KR',sans-serif;">김길수</div>
<div class="t" style="top:2178.4px;font-size:20.352px;line-height:22px;color:#2a2a2a;transform:scaleX(0.9524);transform-origin:0 50%;left:2387px;font-family:'Liberation Sans','Noto Sans CJK KR',sans-serif;">Lee Kukjun</div>
<div class="t" style="top:2177.4px;font-size:20.8px;line-height:23px;color:#2a2a2a;left:2700px;">-</div>
<svg style="left:3106.2px;top:2177.2px" width="21.6" height="21.6" viewBox="0 0 10 10"><path d="M4.4 1.7H1.7V8.3H8.3V5.6M5.9 1.3H8.7V4.1M8.5 1.5L4.7 5.3" fill="none" stroke="#444" stroke-width="1.2"/></svg>
<div style="left:313.2px;top:2234.8px;width:12px;height:12px;background:#f01818;border-radius:50%"></div>
<div class="t" style="top:2228.4px;font-size:21.748px;line-height:25px;color:#e91c24;-webkit-text-stroke:0.88px currentColor;transform:scaleX(0.9524);transform-origin:0 50%;left:336.8px;">Active</div>
<div style="left:464px;top:2227.6px;width:171.2px;height:26.4px;background:#ffcdd0;border-radius:13.2px"></div>
<div class="t" style="top:2229.4px;font-size:21.416px;line-height:24px;color:#e0242c;font-weight:700;transform:scaleX(0.9091);transform-origin:0 50%;left:476px;">D-7 / 2025-04-01</div>
<div class="t" style="top:2231.4px;font-size:19.236px;line-height:21px;color:#2a2a2a;transform:scaleX(0.9524);transform-origin:0 50%;left:772px;">KR-DODLAB_TECH2023-20240...</div>
<div class="t" style="top:2230.4px;font-size:20.168px;line-height:22px;color:#2a2a2a;transform:scaleX(0.9524);transform-origin:0 50%;left:1456px;">DODLAB XYZ Product</div>
<div class="t" style="top:2229.4px;font-size:20.8px;line-height:23px;color:#2a2a2a;left:1766px;">-</div>
<div class="t" style="top:2230.4px;font-size:19.752px;line-height:22px;color:#2a2a2a;transform:scaleX(0.9524);transform-origin:0 50%;left:2079px;font-family:'Liberation Sans','Noto Sans CJK KR',sans-serif;">Sarah</div>
<div class="t" style="top:2230.4px;font-size:20.188px;line-height:22px;color:#2a2a2a;transform:scaleX(0.9524);transform-origin:0 50%;left:2387px;font-family:'Liberation Sans','Noto Sans CJK KR',sans-serif;">local_given_name</div>
<div class="t" style="top:2229.4px;font-size:20.8px;line-height:23px;color:#2a2a2a;left:2700px;">-</div>
<svg style="left:3106.2px;top:2230px" width="21.6" height="21.6" viewBox="0 0 10 10"><path d="M4.4 1.7H1.7V8.3H8.3V5.6M5.9 1.3H8.7V4.1M8.5 1.5L4.7 5.3" fill="none" stroke="#444" stroke-width="1.2"/></svg>
<div style="left:313.2px;top:2287.2px;width:12px;height:12px;background:#f01818;border-radius:50%"></div>
<div class="t" style="top:2280.4px;font-size:21.748px;line-height:25px;color:#e91c24;-webkit-text-stroke:0.88px currentColor;transform:scaleX(0.9524);transform-origin:0 50%;left:336.8px;">Active</div>
<div style="left:464px;top:2280px;width:222.8px;height:26.4px;background:#ececec;border-radius:13.2px"></div>
<div class="t" style="top:2282.4px;font-size:20.132px;line-height:22px;color:#7a7a7a;transform:scaleX(0.9524);transform-origin:0 50%;left:476px;">Over+449 / 2024-01-01</div>
<div class="t" style="top:2283.4px;font-size:18.96px;line-height:21px;color:#2a2a2a;transform:scaleX(0.9524);transform-origin:0 50%;left:772px;">SenderKR-DODLAB_TECH2023...</div>
<div class="t" style="top:2281.4px;font-size:20.904px;line-height:23px;color:#2a2a2a;transform:scaleX(0.9524);transform-origin:0 50%;left:1456px;">Dodlab Products</div>
<div class="t" style="top:2281.4px;font-size:20.8px;line-height:23px;color:#2a2a2a;left:1766px;">-</div>
<div class="t" style="top:2282.4px;font-size:20.196px;line-height:22px;color:#2a2a2a;transform:scaleX(0.9524);transform-origin:0 50%;left:2079px;font-family:'Liberation Sans','Noto Sans CJK KR',sans-serif;">Koo Bon</div>
<div class="t" style="top:2281.4px;font-size:20.78px;line-height:23px;color:#2a2a2a;transform:scaleX(0.9524);transform-origin:0 50%;left:2387px;font-family:'Liberation Sans','Noto Sans CJK KR',sans-serif;">Joey Gother</div>
<div class="t" style="top:2281.4px;font-size:20.8px;line-height:23px;color:#2a2a2a;left:2700px;">-</div>
<svg style="left:3106.2px;top:2282.4px" width="21.6" height="21.6" viewBox="0 0 10 10"><path d="M4.4 1.7H1.7V8.3H8.3V5.6M5.9 1.3H8.7V4.1M8.5 1.5L4.7 5.3" fill="none" stroke="#444" stroke-width="1.2"/></svg>
<div style="left:313.2px;top:2340px;width:12px;height:12px;background:#f01818;border-radius:50%"></div>
<div class="t" style="top:2332.4px;font-size:21.748px;line-height:25px;color:#e91c24;-webkit-text-stroke:0.88px currentColor;transform:scaleX(0.9524);transform-origin:0 50%;left:336.8px;">Active</div>
<div style="left:464px;top:2332.8px;width:222px;height:26.4px;background:#ececec;border-radius:13.2px"></div>
<div class="t" style="top:2334.4px;font-size:20.196px;line-height:22px;color:#7a7a7a;transform:scaleX(0.9524);transform-origin:0 50%;left:476px;">Over+503 / 2023-11-08</div>
<div class="t" style="top:2335.4px;font-size:18.96px;line-height:21px;color:#2a2a2a;transform:scaleX(0.9524);transform-origin:0 50%;left:772px;">SenderKR-DODLAB_TECH2023...</div>
<svg style="left:1085px;top:2336px" width="20" height="20" viewBox="0 0 5 5"><circle cx="2.5" cy="2.5" r="2.25" fill="#ff1f1f"/><circle cx="2.5" cy="2.5" r="0.95" fill="#ff6a6a"/></svg>
<svg style="left:1115px;top:2336px" width="20" height="20" viewBox="0 0 5 5"><circle cx="2.5" cy="2.5" r="2.25" fill="#ff7a1f"/><circle cx="2.5" cy="2.5" r="0.95" fill="#ffc58f"/></svg>
<svg style="left:1145px;top:2336px" width="20" height="20" viewBox="0 0 5 5"><circle cx="2.5" cy="2.5" r="2.25" fill="#ffd83a"/><circle cx="2.5" cy="2.5" r="0.95" fill="#ffef9c"/></svg>
<div class="t" style="top:2333.4px;font-size:20.904px;line-height:23px;color:#2a2a2a;transform:scaleX(0.9524);transform-origin:0 50%;left:1456px;">Dodlab Products</div>
<div class="t" style="top:2333.4px;font-size:20.8px;line-height:23px;color:#2a2a2a;left:1766px;">-</div>
<div class="t" style="top:2334.4px;font-size:20.196px;line-height:22px;color:#2a2a2a;transform:scaleX(0.9524);transform-origin:0 50%;left:2079px;font-family:'Liberation Sans','Noto Sans CJK KR',sans-serif;">Koo Bon</div>
<div class="t" style="top:2333.4px;font-size:20.78px;line-height:23px;color:#2a2a2a;transform:scaleX(0.9524);transform-origin:0 50%;left:2387px;font-family:'Liberation Sans','Noto Sans CJK KR',sans-serif;">Joey Gother</div>
<div class="t" style="top:2333.4px;font-size:20.8px;line-height:23px;color:#2a2a2a;left:2700px;">-</div>
<svg style="left:3106.2px;top:2335.2px" width="21.6" height="21.6" viewBox="0 0 10 10"><path d="M4.4 1.7H1.7V8.3H8.3V5.6M5.9 1.3H8.7V4.1M8.5 1.5L4.7 5.3" fill="none" stroke="#444" stroke-width="1.2"/></svg>
<div style="left:313.2px;top:2392.8px;width:12px;height:12px;background:#f01818;border-radius:50%"></div>
<div class="t" style="top:2388.4px;font-size:21.748px;line-height:25px;color:#e91c24;-webkit-text-stroke:0.88px currentColor;transform:scaleX(0.9524);transform-origin:0 50%;left:336.8px;">Active</div>
<div style="left:464px;top:2385.6px;width:222.8px;height:26.4px;background:#ececec;border-radius:13.2px"></div>
<div class="t" style="top:2390.4px;font-size:20.132px;line-height:22px;color:#7a7a7a;transform:scaleX(0.9524);transform-origin:0 50%;left:476px;">Over+449 / 2024-01-01</div>
<div class="t" style="top:2391.4px;font-size:18.96px;line-height:21px;color:#2a2a2a;transform:scaleX(0.9524);transform-origin:0 50%;left:772px;">SenderKR-DODLAB_TECH2023...</div>
<div class="t" style="top:2389.4px;font-size:20.904px;line-height:23px;color:#2a2a2a;transform:scaleX(0.9524);transform-origin:0 50%;left:1456px;">Dodlab Products</div>
<div class="t" style="top:2389.4px;font-size:20.8px;line-height:23px;color:#2a2a2a;left:1766px;">-</div>
<div class="t" style="top:2391.4px;font-size:19.2px;line-height:21px;color:#2a2a2a;-webkit-text-stroke:0.72px currentColor;letter-spacing:-1.332px;left:2079px;font-family:'Liberation Sans','Noto Sans CJK KR',sans-serif;">김길수</div>
<div class="t" style="top:2390.4px;font-size:20.352px;line-height:22px;color:#2a2a2a;transform:scaleX(0.9524);transform-origin:0 50%;left:2387px;font-family:'Liberation Sans','Noto Sans CJK KR',sans-serif;">Lee Kukjun</div>
<div class="t" style="top:2389.4px;font-size:20.8px;line-height:23px;color:#2a2a2a;left:2700px;">-</div>
<svg style="left:3106.2px;top:2388px" width="21.6" height="21.6" viewBox="0 0 10 10"><path d="M4.4 1.7H1.7V8.3H8.3V5.6M5.9 1.3H8.7V4.1M8.5 1.5L4.7 5.3" fill="none" stroke="#444" stroke-width="1.2"/></svg>
<div class="t" style="top:2454.4px;font-size:19.4px;line-height:22px;color:#444;transform:scaleX(0.9524);transform-origin:0 50%;left:2972px;">1-10 of 58</div>
<svg style="left:3099.2px;top:2456.8px" width="16" height="20" viewBox="0 0 4 5"><path d="M2.8 0.8L1.1 2.5L2.8 4.2" fill="none" stroke="#bdbdbd" stroke-width="0.55"/></svg>
<svg style="left:3143.2px;top:2456.8px" width="16" height="20" viewBox="0 0 4 5"><path d="M1.2 0.7L3.0 2.5L1.2 4.3" fill="none" stroke="#111" stroke-width="1.0"/></svg>
<div class="pcard2" style="left:3240px;top:1831.2px;width:717.2px;height:680.4px;border-radius:14px"></div>
<svg style="left:3360px;top:1876px" width="480" height="480" viewBox="840 469 120 120"><path d="M899.4 471.2A57.2 57.2 0 1 1 890.81 584.95L893.72 565.77A37.8 37.8 0 1 0 899.4 490.6Z" fill="#0080ff" stroke="#fff" stroke-width="0.5"/><path d="M890.81 584.95A57.2 57.2 0 0 1 863.22 484.1L875.49 499.12A37.8 37.8 0 0 0 893.72 565.77Z" fill="#00dc86" stroke="#fff" stroke-width="0.5"/><path d="M863.22 484.1A57.2 57.2 0 0 1 899.4 471.2L899.4 490.6A37.8 37.8 0 0 0 875.49 499.12Z" fill="#ffa31a" stroke="#fff" stroke-width="0.5"/></svg>
<div class="t" style="top:2111.4px;font-size:19.2px;line-height:21px;color:#fff;font-weight:700;left:3184px;width:1200px;text-align:center;text-shadow:0 0 2.8px rgba(0,0,0,0.75),0 0 2px rgba(0,0,0,0.6);">52.4%</div>
<div class="t" style="top:2147.4px;font-size:19.2px;line-height:21px;color:#fff;font-weight:700;left:2814.4px;width:1200px;text-align:center;text-shadow:0 0 2.8px rgba(0,0,0,0.75),0 0 2px rgba(0,0,0,0.6);">36.7%</div>
<div class="t" style="top:1919.4px;font-size:19.2px;line-height:21px;color:#fff;font-weight:700;left:2936px;width:1200px;text-align:center;text-shadow:0 0 2.8px rgba(0,0,0,0.75),0 0 2px rgba(0,0,0,0.6);">10.9%</div>
<div class="t" style="top:2078.4px;font-size:24px;line-height:27px;color:#333;left:2997.6px;width:1200px;text-align:center;">Total</div>
<div class="t" style="top:2130.4px;font-size:28.8px;line-height:32px;color:#222;left:2997.6px;width:1200px;text-align:center;">147</div>
<div style="left:3454.4px;top:2382.4px;width:19.2px;height:19.2px;background:#0080ff;border-radius:50%"></div>
<div class="t" style="top:2383.4px;font-size:18.816px;line-height:21px;color:#333;transform:scaleX(0.9524);transform-origin:0 50%;left:3479.2px;">Active</div>
<div style="left:3544.8px;top:2382.4px;width:19.2px;height:19.2px;background:#00dc86;border-radius:50%"></div>
<div class="t" style="top:2383.4px;font-size:18.548px;line-height:21px;color:#333;transform:scaleX(0.9524);transform-origin:0 50%;left:3568.8px;">Temp</div>
<div style="left:3630.4px;top:2382.4px;width:19.2px;height:19.2px;background:#ffa31a;border-radius:50%"></div>
<div class="t" style="top:2383.4px;font-size:18.976px;line-height:21px;color:#333;transform:scaleX(0.9524);transform-origin:0 50%;left:3654.4px;">Submit Fail</div>
<div class="t" style="top:2574.4px;font-size:24.76px;line-height:27px;color:#2a2a2a;-webkit-text-stroke:1.2px currentColor;transform:scaleX(0.9524);transform-origin:0 50%;left:296px;">Report Document</div>
<div class="pcard2" style="left:298px;top:2622px;width:1088px;height:1040px;"></div>
<div class="t" style="top:2646.4px;font-size:20.224px;line-height:22px;color:#1e1e1e;-webkit-text-stroke:1px currentColor;transform:scaleX(0.9524);transform-origin:0 50%;left:313px;">Status</div>
<div class="t" style="top:2646.4px;font-size:19.792px;line-height:22px;color:#1e1e1e;-webkit-text-stroke:1px currentColor;transform:scaleX(0.9524);transform-origin:0 50%;left:496px;">Deadline</div>
<div class="t" style="top:2646.4px;font-size:19.524px;line-height:22px;color:#1e1e1e;-webkit-text-stroke:1px currentColor;transform:scaleX(0.9524);transform-origin:0 50%;left:678.4px;">Name</div>
<div class="t" style="top:2646.4px;font-size:19.844px;line-height:22px;color:#1e1e1e;-webkit-text-stroke:1px currentColor;transform:scaleX(0.9524);transform-origin:0 50%;left:1040px;">Product Name</div>
<div style="left:485px;top:2647.6px;width:2px;height:16.8px;background:#d6d6d6"></div>
<div style="left:666px;top:2647.6px;width:2px;height:16.8px;background:#d6d6d6"></div>
<div style="left:1026px;top:2647.6px;width:2px;height:16.8px;background:#d6d6d6"></div>
<div style="left:299.2px;top:2687.6px;width:1085.6px;height:2.4px;background:#e4e4e4"></div>
<div style="left:299.2px;top:2740.4px;width:1085.6px;height:2.4px;background:#e4e4e4"></div>
<div style="left:299.2px;top:2793.2px;width:1085.6px;height:2.4px;background:#e4e4e4"></div>
<div style="left:299.2px;top:2846px;width:1085.6px;height:2.4px;background:#e4e4e4"></div>
<div style="left:299.2px;top:2898.4px;width:1085.6px;height:2.4px;background:#e4e4e4"></div>
<div style="left:299.2px;top:2950.4px;width:1085.6px;height:2.4px;background:#e4e4e4"></div>
<div class="t" style="top:2702.4px;font-size:20.336px;line-height:22px;color:#8a8a8a;font-weight:700;transform:scaleX(0.9091);transform-origin:0 50%;left:313px;">Overdue</div>
<div class="t" style="top:2700.4px;font-size:21.704px;line-height:25px;color:#222;font-weight:700;transform:scaleX(0.9091);transform-origin:0 50%;left:496px;">24.04.30</div>
<div style="left:678px;top:2700.8px;width:87.2px;height:26.4px;border:2.2px solid #555;border-radius:13.2px;box-sizing:border-box;background:#fff"></div>
<div class="t" style="top:2707.4px;font-size:14.4px;line-height:16px;color:#444;letter-spacing:0.2px;left:121.6px;width:1200px;text-align:center;">DSUR</div>
<div class="t" style="top:2702.4px;font-size:20.112px;line-height:22px;color:#2a2a2a;transform:scaleX(0.9524);transform-origin:0 50%;left:776.8px;">test_test</div>
<div class="t" style="top:2702.4px;font-size:19.472px;line-height:22px;color:#2a2a2a;transform:scaleX(0.9524);transform-origin:0 50%;left:1040px;">Gadasil9</div>
<div class="t" style="top:2758.4px;font-size:20.336px;line-height:22px;color:#8a8a8a;font-weight:700;transform:scaleX(0.9091);transform-origin:0 50%;left:313px;">Overdue</div>
<div class="t" style="top:2756.4px;font-size:21.704px;line-height:25px;color:#222;font-weight:700;transform:scaleX(0.9091);transform-origin:0 50%;left:496px;">24.04.30</div>
<div style="left:678px;top:2753.8px;width:87.2px;height:26.4px;border:2.2px solid #555;border-radius:13.2px;box-sizing:border-box;background:#fff"></div>
<div class="t" style="top:2763.4px;font-size:14.4px;line-height:16px;color:#444;letter-spacing:0.2px;left:121.6px;width:1200px;text-align:center;">DSUR</div>
<div class="t" style="top:2758.4px;font-size:19.772px;line-height:22px;color:#2a2a2a;transform:scaleX(0.9524);transform-origin:0 50%;left:776.8px;">test_test_test</div>
<div class="t" style="top:2758.4px;font-size:19.472px;line-height:22px;color:#2a2a2a;transform:scaleX(0.9524);transform-origin:0 50%;left:1040px;">Gadasil9</div>
<div class="t" style="top:2810.4px;font-size:20.336px;line-height:22px;color:#8a8a8a;font-weight:700;transform:scaleX(0.9091);transform-origin:0 50%;left:313px;">Overdue</div>
<div class="t" style="top:2808.4px;font-size:21.704px;line-height:25px;color:#222;font-weight:700;transform:scaleX(0.9091);transform-origin:0 50%;left:496px;">24.06.30</div>
<div style="left:678px;top:2806.8px;width:87.2px;height:26.4px;border:2.2px solid #555;border-radius:13.2px;box-sizing:border-box;background:#fff"></div>
<div class="t" style="top:2815.4px;font-size:14.4px;line-height:16px;color:#444;letter-spacing:0.2px;left:121.6px;width:1200px;text-align:center;">DSUR</div>
<div class="t" style="top:2810.4px;font-size:19.564px;line-height:22px;color:#2a2a2a;transform:scaleX(0.9524);transform-origin:0 50%;left:776.8px;">DODLAB-DSUR-202409</div>
<div class="t" style="top:2810.4px;font-size:19.712px;line-height:22px;color:#2a2a2a;transform:scaleX(0.9524);transform-origin:0 50%;left:1040px;">Dodlab Products</div>
<div class="t" style="top:2862.4px;font-size:20.336px;line-height:22px;color:#8a8a8a;font-weight:700;transform:scaleX(0.9091);transform-origin:0 50%;left:313px;">Overdue</div>
<div class="t" style="top:2860.4px;font-size:21.704px;line-height:25px;color:#222;font-weight:700;transform:scaleX(0.9091);transform-origin:0 50%;left:496px;">24.06.30</div>
<div style="left:678px;top:2859.8px;width:87.2px;height:26.4px;border:2.2px solid #555;border-radius:13.2px;box-sizing:border-box;background:#fff"></div>
<div class="t" style="top:2867.4px;font-size:14.4px;line-height:16px;color:#444;letter-spacing:0.2px;left:121.6px;width:1200px;text-align:center;">PBRER</div>
<div class="t" style="top:2863.4px;font-size:19.18px;line-height:21px;color:#2a2a2a;transform:scaleX(0.9524);transform-origin:0 50%;left:776.8px;">DODLAB-PBRER-202409</div>
<div class="t" style="top:2862.4px;font-size:19.712px;line-height:22px;color:#2a2a2a;transform:scaleX(0.9524);transform-origin:0 50%;left:1040px;">Dodlab Products</div>
<div class="t" style="top:2914.4px;font-size:20.336px;line-height:22px;color:#8a8a8a;font-weight:700;transform:scaleX(0.9091);transform-origin:0 50%;left:313px;">Overdue</div>
<div class="t" style="top:2914.4px;font-size:19.892px;line-height:22px;color:#222;font-weight:700;transform:scaleX(0.9091);transform-origin:0 50%;left:496px;">24.07.31</div>
<div style="left:678px;top:2912.4px;width:87.2px;height:26.4px;border:2.2px solid #555;border-radius:13.2px;box-sizing:border-box;background:#fff"></div>
<div class="t" style="top:2919.4px;font-size:14.4px;line-height:16px;color:#444;letter-spacing:0.2px;left:121.6px;width:1200px;text-align:center;">DSUR</div>
<div class="t" style="top:2913.4px;font-size:21.108px;line-height:23px;color:#2a2a2a;transform:scaleX(0.9524);transform-origin:0 50%;left:776.8px;">test</div>
<div class="t" style="top:2914.4px;font-size:19.64px;line-height:22px;color:#2a2a2a;transform:scaleX(0.9524);transform-origin:0 50%;left:1040px;">Albion</div>
<div class="t" style="top:2966.4px;font-size:20.336px;line-height:22px;color:#8a8a8a;font-weight:700;transform:scaleX(0.9091);transform-origin:0 50%;left:313px;">Overdue</div>
<div class="t" style="top:2964.4px;font-size:21.704px;line-height:25px;color:#222;font-weight:700;transform:scaleX(0.9091);transform-origin:0 50%;left:496px;">25.03.02</div>
<div style="left:678px;top:2964.8px;width:87.2px;height:26.4px;border:2.2px solid #555;border-radius:13.2px;box-sizing:border-box;background:#fff"></div>
<div class="t" style="top:2971.4px;font-size:14.4px;line-height:16px;color:#444;letter-spacing:0.2px;left:121.6px;width:1200px;text-align:center;">DSUR</div>
<div class="t" style="top:2964.4px;font-size:21.708px;line-height:25px;color:#2a2a2a;transform:scaleX(0.9524);transform-origin:0 50%;left:776.8px;max-width:250px;overflow:hidden;">dodlab-safety-to-MyCompany</div>
<div class="t" style="top:2966.4px;font-size:19.8px;line-height:22px;color:#2a2a2a;transform:scaleX(0.9524);transform-origin:0 50%;left:1040px;">Dodlab Product</div>
<div class="t" style="top:2573.4px;font-size:25.484px;line-height:28px;color:#2a2a2a;-webkit-text-stroke:1.2px currentColor;transform:scaleX(0.9524);transform-origin:0 50%;left:1412px;">Notice</div>
<div class="pcard2" style="left:1413.2px;top:2622px;width:2544.8px;height:902.8px;"></div>
<div class="t" style="top:2646.4px;font-size:20.436px;line-height:22px;color:#1e1e1e;-webkit-text-stroke:1px currentColor;transform:scaleX(0.9524);transform-origin:0 50%;left:1429px;">Type</div>
<div class="t" style="top:2645.4px;font-size:21.544px;line-height:24px;color:#1e1e1e;-webkit-text-stroke:1px currentColor;transform:scaleX(0.9524);transform-origin:0 50%;left:1626px;">Title</div>
<div class="t" style="top:2646.4px;font-size:20.2px;line-height:22px;color:#1e1e1e;-webkit-text-stroke:1px currentColor;transform:scaleX(0.9524);transform-origin:0 50%;left:2115px;">Contents</div>
<div class="t" style="top:2646.4px;font-size:20.192px;line-height:22px;color:#1e1e1e;-webkit-text-stroke:1px currentColor;transform:scaleX(0.9524);transform-origin:0 50%;left:3579px;">Created at</div>
<div class="t" style="top:2645.4px;font-size:20.748px;line-height:23px;color:#222;-webkit-text-stroke:1px currentColor;transform:scaleX(0.9524);transform-origin:0 50%;left:3820px;">Actions</div>
<div style="left:1612px;top:2647.6px;width:2px;height:16.8px;background:#d6d6d6"></div>
<div style="left:2100px;top:2647.6px;width:2px;height:16.8px;background:#d6d6d6"></div>
<div style="left:3567px;top:2647.6px;width:2px;height:16.8px;background:#d6d6d6"></div>
<div style="left:1414.4px;top:2687.6px;width:2542.4px;height:2.4px;background:#e4e4e4"></div>
<div style="left:1414.4px;top:2740.4px;width:2542.4px;height:2.4px;background:#e4e4e4"></div>
<div style="left:1414.4px;top:2793.2px;width:2542.4px;height:2.4px;background:#e4e4e4"></div>
<div style="left:1414.4px;top:2846px;width:2542.4px;height:2.4px;background:#e4e4e4"></div>
<div style="left:3806.4px;top:2623.6px;width:2.4px;height:274.8px;background:#e0e0e0;box-shadow:-4.8px 0 8px rgba(0,0,0,0.05)"></div>
<div style="left:1428px;top:2702px;width:106px;height:24px;background:#e8e8e8;border-radius:12px"></div>
<div class="t" style="top:2706.4px;font-size:15.6px;line-height:17px;color:#6a6a6a;letter-spacing:-2px;left:881px;width:1200px;text-align:center;font-family:'Liberation Sans','Noto Sans CJK KR',sans-serif;">패치노트</div>
<div class="t" style="top:2702.4px;font-size:19.6px;line-height:22px;color:#2a2a2a;letter-spacing:-0.8px;left:1626px;font-family:'Liberation Sans','Noto Sans CJK KR',sans-serif;">Version 0.1.8 <span style="font-size:0.88em;letter-spacing:-0.36px">출시</span> <span style="font-size:0.88em;letter-spacing:-0.36px">예정</span> <span style="font-size:0.88em;letter-spacing:-0.36px">점검</span></div>
<div class="t" style="top:2702.4px;font-size:19.6px;line-height:22px;color:#2a2a2a;letter-spacing:-0.8px;left:2113px;font-family:'Liberation Sans','Noto Sans CJK KR',sans-serif;">Version 0.1.8<span style="font-size:0.88em;letter-spacing:0.304px">은</span> <span style="font-size:0.88em;letter-spacing:0.304px">곧</span> <span style="font-size:0.88em;letter-spacing:0.304px">출시됩니다</span>! <span style="font-size:0.88em;letter-spacing:0.304px">새로운</span> <span style="font-size:0.88em;letter-spacing:0.304px">디자인과</span> <span style="font-size:0.88em;letter-spacing:0.304px">사용자</span> <span style="font-size:0.88em;letter-spacing:0.304px">경험을</span> <span style="font-size:0.88em;letter-spacing:0.304px">준비하고</span> <span style="font-size:0.88em;letter-spacing:0.304px">있으니</span>, <span style="font-size:0.88em;letter-spacing:0.304px">기대해주세요</span>! ...</div>
<div style="left:2841.2px;top:2696px;width:96.8px;height:36px;border:2.2px solid #f2777d;border-radius:6.4px;box-sizing:border-box;background:#fff"></div>
<div class="t" style="top:2706.4px;font-size:15.6px;line-height:17px;color:#e8323c;letter-spacing:0.2px;left:2289.6px;width:1200px;text-align:center;">MORE</div>
<div class="t" style="top:2701.4px;font-size:20.896px;line-height:23px;color:#2a2a2a;transform:scaleX(0.9524);transform-origin:0 50%;left:3579px;">2023-10-20</div>
<svg style="left:3842.8px;top:2703.2px" width="21.6" height="21.6" viewBox="0 0 10 10"><path d="M5 1V6.4M2.7 4.3L5 6.6L7.3 4.3M1.2 6.8V8.8H8.8V6.8" fill="none" stroke="#444" stroke-width="1.2"/></svg>
<svg style="left:3898.4px;top:2703.2px" width="21.6" height="21.6" viewBox="0 0 10 10"><path d="M4.4 1.7H1.7V8.3H8.3V5.6M5.9 1.3H8.7V4.1M8.5 1.5L4.7 5.3" fill="none" stroke="#b8b8b8" stroke-width="1.2"/></svg>
<div style="left:1428px;top:2755px;width:106px;height:24px;background:#e8e8e8;border-radius:12px"></div>
<div class="t" style="top:2762.4px;font-size:15.6px;line-height:17px;color:#6a6a6a;letter-spacing:-2px;left:881px;width:1200px;text-align:center;font-family:'Liberation Sans','Noto Sans CJK KR',sans-serif;">공지사항</div>
<div class="t" style="top:2758.4px;font-size:19.6px;line-height:22px;color:#2a2a2a;letter-spacing:-0.8px;left:1626px;font-family:'Liberation Sans','Noto Sans CJK KR',sans-serif;">Version 0.1.7 <span style="font-size:0.88em;letter-spacing:-0.728px">릴리즈</span> <span style="font-size:0.88em;letter-spacing:-0.728px">노트</span></div>
<div class="t" style="top:2758.4px;font-size:19.6px;line-height:22px;color:#2a2a2a;letter-spacing:-0.8px;left:2113px;font-family:'Liberation Sans','Noto Sans CJK KR',sans-serif;">Version 0.1.7 <span style="font-size:0.88em;letter-spacing:-0.036px">릴리즈</span> <span style="font-size:0.88em;letter-spacing:-0.036px">노트입니다</span>. <span style="font-size:0.88em;letter-spacing:-0.036px">이번</span> <span style="font-size:0.88em;letter-spacing:-0.036px">업데이트에서는</span> <span style="font-size:0.88em;letter-spacing:-0.036px">보안</span> <span style="font-size:0.88em;letter-spacing:-0.036px">문제를</span> <span style="font-size:0.88em;letter-spacing:-0.036px">해결하였습니다</span>. <span style="font-size:0.88em;letter-spacing:-0.036px">사용</span> <span style="font-size:0.88em;letter-spacing:-0.036px">중</span> <span style="font-size:0.88em;letter-spacing:-0.036px">불편</span>...</div>
<div style="left:2841.2px;top:2749px;width:96.8px;height:36px;border:2.2px solid #f2777d;border-radius:6.4px;box-sizing:border-box;background:#fff"></div>
<div class="t" style="top:2762.4px;font-size:15.6px;line-height:17px;color:#e8323c;letter-spacing:0.2px;left:2289.6px;width:1200px;text-align:center;">MORE</div>
<div class="t" style="top:2757.4px;font-size:20.896px;line-height:23px;color:#2a2a2a;transform:scaleX(0.9524);transform-origin:0 50%;left:3579px;">2023-10-20</div>
<svg style="left:3842.8px;top:2756.2px" width="21.6" height="21.6" viewBox="0 0 10 10"><path d="M5 1V6.4M2.7 4.3L5 6.6L7.3 4.3M1.2 6.8V8.8H8.8V6.8" fill="none" stroke="#444" stroke-width="1.2"/></svg>
<svg style="left:3898.4px;top:2756.2px" width="21.6" height="21.6" viewBox="0 0 10 10"><path d="M4.4 1.7H1.7V8.3H8.3V5.6M5.9 1.3H8.7V4.1M8.5 1.5L4.7 5.3" fill="none" stroke="#b8b8b8" stroke-width="1.2"/></svg>
<div style="left:1428px;top:2808px;width:106px;height:24px;background:#e8e8e8;border-radius:12px"></div>
<div class="t" style="top:2814.4px;font-size:15.6px;line-height:17px;color:#6a6a6a;letter-spacing:-2px;left:881px;width:1200px;text-align:center;font-family:'Liberation Sans','Noto Sans CJK KR',sans-serif;">점검</div>
<div class="t" style="top:2810.4px;font-size:19.6px;line-height:22px;color:#2a2a2a;letter-spacing:-0.8px;left:1626px;font-family:'Liberation Sans','Noto Sans CJK KR',sans-serif;">Version 0.1.6 <span style="font-size:0.88em;letter-spacing:-0.42px">업데이트</span> <span style="font-size:0.88em;letter-spacing:-0.42px">내용</span></div>
<div class="t" style="top:2810.4px;font-size:19.6px;line-height:22px;color:#2a2a2a;letter-spacing:-0.8px;left:2113px;font-family:'Liberation Sans','Noto Sans CJK KR',sans-serif;">Version 0.1.6<span style="font-size:0.88em;letter-spacing:-0.036px">에서는</span> <span style="font-size:0.88em;letter-spacing:-0.036px">새로운</span> <span style="font-size:0.88em;letter-spacing:-0.036px">기능을</span> <span style="font-size:0.88em;letter-spacing:-0.036px">추가하였습니다</span>! <span style="font-size:0.88em;letter-spacing:-0.036px">성능</span> <span style="font-size:0.88em;letter-spacing:-0.036px">개선</span> <span style="font-size:0.88em;letter-spacing:-0.036px">및</span> <span style="font-size:0.88em;letter-spacing:-0.036px">버그</span> <span style="font-size:0.88em;letter-spacing:-0.036px">수정이</span> <span style="font-size:0.88em;letter-spacing:-0.036px">포함되어</span> <span style="font-size:0.88em;letter-spacing:-0.036px">있습니다</span>....</div>
<div style="left:2841.2px;top:2802px;width:96.8px;height:36px;border:2.2px solid #f2777d;border-radius:6.4px;box-sizing:border-box;background:#fff"></div>
<div class="t" style="top:2814.4px;font-size:15.6px;line-height:17px;color:#e8323c;letter-spacing:0.2px;left:2289.6px;width:1200px;text-align:center;">MORE</div>
<div class="t" style="top:2809.4px;font-size:20.896px;line-height:23px;color:#2a2a2a;transform:scaleX(0.9524);transform-origin:0 50%;left:3579px;">2023-10-20</div>
<svg style="left:3842.8px;top:2809.2px" width="21.6" height="21.6" viewBox="0 0 10 10"><path d="M5 1V6.4M2.7 4.3L5 6.6L7.3 4.3M1.2 6.8V8.8H8.8V6.8" fill="none" stroke="#444" stroke-width="1.2"/></svg>
<svg style="left:3898.4px;top:2809.2px" width="21.6" height="21.6" viewBox="0 0 10 10"><path d="M4.4 1.7H1.7V8.3H8.3V5.6M5.9 1.3H8.7V4.1M8.5 1.5L4.7 5.3" fill="none" stroke="#b8b8b8" stroke-width="1.2"/></svg>
<div style="left:1428px;top:2861px;width:106px;height:24px;background:#e8e8e8;border-radius:12px"></div>
<div class="t" style="top:2866.4px;font-size:15.6px;line-height:17px;color:#6a6a6a;letter-spacing:-2px;left:881px;width:1200px;text-align:center;font-family:'Liberation Sans','Noto Sans CJK KR',sans-serif;">공지사항</div>
<div class="t" style="top:2862.4px;font-size:19.6px;line-height:22px;color:#2a2a2a;letter-spacing:-0.8px;left:1626px;font-family:'Liberation Sans','Noto Sans CJK KR',sans-serif;">Version 0.1.5 <span style="font-size:0.88em;letter-spacing:0.08px">업데이트</span> <span style="font-size:0.88em;letter-spacing:0.08px">안내</span></div>
<div class="t" style="top:2862.4px;font-size:19.6px;line-height:22px;color:#2a2a2a;letter-spacing:-0.8px;left:2113px;font-family:'Liberation Sans','Noto Sans CJK KR',sans-serif;">Version 0.1.5 <span style="font-size:0.88em;letter-spacing:0.1px">업데이트</span> <span style="font-size:0.88em;letter-spacing:0.1px">안내를</span> <span style="font-size:0.88em;letter-spacing:0.1px">위한</span> <span style="font-size:0.88em;letter-spacing:0.1px">공지사항입니다</span>. <span style="font-size:0.88em;letter-spacing:0.1px">여러분들의</span> <span style="font-size:0.88em;letter-spacing:0.1px">많은</span> <span style="font-size:0.88em;letter-spacing:0.1px">관심</span> <span style="font-size:0.88em;letter-spacing:0.1px">부탁드립니다</span>. <span style="font-size:0.88em;letter-spacing:0.1px">감사합</span>...</div>
<div style="left:2841.2px;top:2855px;width:96.8px;height:36px;border:2.2px solid #f2777d;border-radius:6.4px;box-sizing:border-box;background:#fff"></div>
<div class="t" style="top:2866.4px;font-size:15.6px;line-height:17px;color:#e8323c;letter-spacing:0.2px;left:2289.6px;width:1200px;text-align:center;">MORE</div>
<div class="t" style="top:2861.4px;font-size:20.896px;line-height:23px;color:#2a2a2a;transform:scaleX(0.9524);transform-origin:0 50%;left:3579px;">2023-06-19</div>
<svg style="left:3842.8px;top:2862.2px" width="21.6" height="21.6" viewBox="0 0 10 10"><path d="M5 1V6.4M2.7 4.3L5 6.6L7.3 4.3M1.2 6.8V8.8H8.8V6.8" fill="none" stroke="#444" stroke-width="1.2"/></svg>
<svg style="left:3898.4px;top:2862.2px" width="21.6" height="21.6" viewBox="0 0 10 10"><path d="M4.4 1.7H1.7V8.3H8.3V5.6M5.9 1.3H8.7V4.1M8.5 1.5L4.7 5.3" fill="none" stroke="#b8b8b8" stroke-width="1.2"/></svg>
<div style="left:1414.4px;top:3446px;width:2542.4px;height:2.4px;background:#e4e4e4"></div>
<div class="t" style="top:3474.4px;font-size:20.188px;line-height:22px;color:#444;transform:scaleX(0.9524);transform-origin:0 50%;left:3768px;">1-4 of 4</div>
<svg style="left:3877.2px;top:3475.2px" width="16" height="20" viewBox="0 0 4 5"><path d="M2.8 0.8L1.1 2.5L2.8 4.2" fill="none" stroke="#bdbdbd" stroke-width="0.55"/></svg>
<svg style="left:3923.2px;top:3475.2px" width="16" height="20" viewBox="0 0 4 5"><path d="M1.2 0.8L2.9 2.5L1.2 4.2" fill="none" stroke="#bdbdbd" stroke-width="0.55"/></svg>
</div></section>
<div class="shadow" style="left:9.2px;top:3229.2px;width:3736.8px;height:770.8px;border-radius:74px;box-shadow:1.2px 4px 8px rgba(0,0,0,0.18)"></div>
<section class="card" id="submission" style="left:9.2px;top:3229.2px;width:3736.8px;height:770.8px;border-radius:74px;background:#fff;border-width:5px"><div class="in" style="left:-14.2px;top:-3234.2px">
<div style="left:28px;top:3248px;width:3694.4px;height:735.2px;border:2px solid #e3e3e3;box-sizing:border-box"></div>
<div class="t" style="top:3293.4px;font-size:38.268px;line-height:43px;color:#1e1e1e;-webkit-text-stroke:1.8px currentColor;left:80.8px;">Submission-007</div>
<svg style="left:414.4px;top:3297.6px" width="36" height="36" viewBox="0 0 12 12"><path d="M2 10L2.6 7.6L8.3 1.9L10.1 3.7L4.4 9.4Z M7.2 3L9 4.8" fill="none" stroke="#444" stroke-width="1.1" stroke-linejoin="round"/></svg>
<div class="t" style="top:3356.4px;font-size:22.52px;line-height:25px;color:#9a9a9a;left:80.8px;">ID: 1ea93260-d4fb-4e6c-a9f8-09cdcf125718</div>
<div class="t" style="top:3438.4px;font-size:24.208px;line-height:27px;color:#3c3c3c;-webkit-text-stroke:1.2px currentColor;left:80.8px;">Basic</div>
<div class="pcard2" style="left:80.8px;top:3497.6px;width:792.8px;height:102px;border-radius:10px"></div>
<svg style="left:103.6px;top:3530.2px" width="36.8" height="36.8" viewBox="0 0 12 12"><g fill="none" stroke="#555" stroke-width="0.85" stroke-linejoin="round"><circle cx="6" cy="6" r="4.4"/><path d="M2 5.2C4 4.2 6 7.8 10 6.6M3.4 2.6L8.8 9.2"/></g></svg>
<div class="t" style="top:3517.4px;font-size:21.24px;line-height:24px;color:#777;left:178.4px;">Product</div>
<div class="t" style="top:3553.4px;font-size:25.296px;line-height:28px;color:#222;font-weight:700;transform:scaleX(0.9091);transform-origin:0 50%;left:178.4px;">Dodlab Product</div>
<svg style="left:826.4px;top:3536.6px" width="16" height="24" viewBox="0 0 4 6"><path d="M1.2 1L3 3L1.2 5" fill="none" stroke="#666" stroke-width="0.6"/></svg>
<div class="pcard2" style="left:80.8px;top:3613.6px;width:792.8px;height:103.6px;border-radius:10px"></div>
<svg style="left:103.6px;top:3647px" width="36.8" height="36.8" viewBox="0 0 12 12"><g fill="none" stroke="#555" stroke-width="0.85" stroke-linejoin="round"><path d="M6.5 1.8A4.3 4.3 0 1 1 6.5 10.2M1.5 6H4.5M3 4.5V7.5"/><circle cx="7.4" cy="6" r="0.5"/></g></svg>
<div class="t" style="top:3633.4px;font-size:20.972px;line-height:23px;color:#777;left:178.4px;">Reporter</div>
<div class="t" style="top:3669.4px;font-size:25.492px;line-height:28px;color:#222;font-weight:700;transform:scaleX(0.9091);transform-origin:0 50%;left:178.4px;">Dodlab Rreporter #1</div>
<svg style="left:826.4px;top:3653.4px" width="16" height="24" viewBox="0 0 4 6"><path d="M1.2 1L3 3L1.2 5" fill="none" stroke="#666" stroke-width="0.6"/></svg>
<div class="pcard2" style="left:80.8px;top:3729.2px;width:792.8px;height:103.6px;border-radius:10px"></div>
<svg style="left:103.6px;top:3762.6px" width="36.8" height="36.8" viewBox="0 0 12 12"><g fill="none" stroke="#555" stroke-width="0.85" stroke-linejoin="round"><path d="M2 3.2H9V6M2 3.2V9.6H5.6M3.8 2V4M7.2 2V4M4.6 6.4H6.8M7 10.4L7.3 8.9L10 6.2L11.2 7.4L8.5 10.1Z"/></g></svg>
<div class="t" style="top:3748.4px;font-size:22.524px;line-height:25px;color:#777;left:178.4px;">Study</div>
<div class="t" style="top:3786.4px;font-size:24px;line-height:27px;color:#222;font-weight:700;left:178.4px;">-</div>
<svg style="left:826.4px;top:3769px" width="16" height="24" viewBox="0 0 4 6"><path d="M1.2 1L3 3L1.2 5" fill="none" stroke="#666" stroke-width="0.6"/></svg>
<div class="pcard2" style="left:80.8px;top:3845.6px;width:792.8px;height:104px;border-radius:10px"></div>
<svg style="left:103.6px;top:3879.2px" width="36.8" height="36.8" viewBox="0 0 12 12"><g fill="none" stroke="#555" stroke-width="0.85" stroke-linejoin="round"><path d="M1.8 5.2L6 2L10.2 5.2V10H1.8ZM1.8 7.4L4.2 6L6 7.4L7.8 6L10.2 7.4"/></g></svg>
<div class="t" style="top:3864.4px;font-size:21.956px;line-height:25px;color:#777;left:174.8px;">Sender</div>
<div class="t" style="top:3902.4px;font-size:24.656px;line-height:27px;color:#222;font-weight:700;transform:scaleX(0.9091);transform-origin:0 50%;left:174.8px;">Dodlab SENDER</div>
<svg style="left:826.4px;top:3885.6px" width="16" height="24" viewBox="0 0 4 6"><path d="M1.2 1L3 3L1.2 5" fill="none" stroke="#666" stroke-width="0.6"/></svg>
<div style="left:945.2px;top:3435.2px;width:2.4px;height:513.6px;background:#e6e6e6"></div>
<div class="t" style="top:3437.4px;font-size:25.5px;line-height:28px;color:#3c3c3c;-webkit-text-stroke:1.2px currentColor;left:1022px;">Detail</div>
<div class="pcard2" style="left:1022px;top:3497.2px;width:1300px;height:219.6px;border-radius:12px"></div>
<div class="t" style="top:3520.4px;font-size:22.576px;line-height:25px;color:#666;left:1048px;">Status</div>
<div class="t" style="top:3601.4px;font-size:39.088px;line-height:43px;color:#2e2e2e;-webkit-text-stroke:1.6px currentColor;left:1048px;">Submitted</div>
<div style="left:1048px;top:3660.48px;width:1248px;height:2.2px;background:#e6e6e6"></div>
<div class="t" style="top:3677.4px;font-size:20.88px;line-height:23px;color:#858585;transform:scaleX(0.8929);transform-origin:0 50%;left:1048px;">Case Status Information</div>
<svg style="left:2261.6px;top:3519.6px" width="25.6" height="25.6" viewBox="0 0 12 12"><circle cx="6" cy="6" r="4.9" fill="none" stroke="#4a4a4a" stroke-width="1.1"/><path d="M6 5.3V8.6M6 3.3V4.2" fill="none" stroke="#4a4a4a" stroke-width="1.1"/></svg>
<div class="pcard2" style="left:2367.2px;top:3497.2px;width:1302.8px;height:219.6px;border-radius:12px"></div>
<div class="t" style="top:3520.4px;font-size:22.556px;line-height:25px;color:#666;left:2393.2px;">Overview</div>
<div style="left:2394px;top:3619.6px;width:12px;height:3.6px;background:#333"></div>
<div style="left:2393.2px;top:3660.48px;width:1250.8px;height:2.2px;background:#e6e6e6"></div>
<div class="t" style="top:3677.4px;font-size:21.064px;line-height:23px;color:#858585;transform:scaleX(0.8929);transform-origin:0 50%;left:2393.2px;">Case Overview Information</div>
<svg style="left:3609.6px;top:3519.6px" width="25.6" height="25.6" viewBox="0 0 12 12"><circle cx="6" cy="6" r="4.9" fill="none" stroke="#4a4a4a" stroke-width="1.1"/><path d="M6 5.3V8.6M6 3.3V4.2" fill="none" stroke="#4a4a4a" stroke-width="1.1"/></svg>
<div class="pcard2" style="left:1022px;top:3730px;width:1300px;height:220px;border-radius:12px"></div>
<div class="t" style="top:3752.4px;font-size:22.02px;line-height:25px;color:#666;left:1048px;">D-Day</div>
<div style="left:1048.8px;top:3852.4px;width:12px;height:3.6px;background:#333"></div>
<div style="left:1048px;top:3893.32px;width:1248px;height:2.2px;background:#e6e6e6"></div>
<div class="t" style="top:3909.4px;font-size:20.8px;line-height:23px;color:#858585;transform:scaleX(0.8929);transform-origin:0 50%;left:1048px;">Case D-Day Information</div>
<svg style="left:2261.6px;top:3755.2px" width="25.6" height="25.6" viewBox="0 0 12 12"><circle cx="6" cy="6" r="4.9" fill="none" stroke="#4a4a4a" stroke-width="1.1"/><path d="M6 5.3V8.6M6 3.3V4.2" fill="none" stroke="#4a4a4a" stroke-width="1.1"/></svg>
<div class="pcard2" style="left:2367.2px;top:3730px;width:1302.8px;height:220px;border-radius:12px"></div>
<div class="t" style="top:3756.4px;font-size:22.208px;line-height:25px;color:#666;left:2393.2px;">Submission</div>
<div class="t" style="top:3834.4px;font-size:38.1px;line-height:42px;color:#2e2e2e;-webkit-text-stroke:1.6px currentColor;left:2393.2px;">Success</div>
<div style="left:2393.2px;top:3893.32px;width:1250.8px;height:2.2px;background:#e6e6e6"></div>
<div class="t" style="top:3909.4px;font-size:20.82px;line-height:23px;color:#858585;transform:scaleX(0.8929);transform-origin:0 50%;left:2393.2px;">Case Submission Information</div>
<svg style="left:3609.6px;top:3755.2px" width="25.6" height="25.6" viewBox="0 0 12 12"><circle cx="6" cy="6" r="4.9" fill="none" stroke="#4a4a4a" stroke-width="1.1"/><path d="M6 5.3V8.6M6 3.3V4.2" fill="none" stroke="#4a4a4a" stroke-width="1.1"/></svg>
<div style="left:2532.8px;top:3744.8px;width:183.2px;height:49.2px;background:#e9e9e9;border-radius:10px"></div>
<div style="left:2538.8px;top:3750px;width:82.4px;height:38.4px;background:#fff;border-radius:8px;box-shadow:0 1.2px 3.2px rgba(0,0,0,0.12)"></div>
<div class="t" style="top:3760.4px;font-size:18px;line-height:20px;color:#222;font-weight:700;left:1977.2px;width:1200px;text-align:center;">Live</div>
<div class="t" style="top:3760.4px;font-size:18px;line-height:20px;color:#aaa;left:2070px;width:1200px;text-align:center;">Test</div>
<div style="left:3076.8px;top:3308px;width:57.2px;height:59.2px;border:2.2px solid #cfcfcf;border-radius:8.8px;box-sizing:border-box;background:#fff"></div>
<svg style="left:3092.4px;top:3322.4px" width="26.4" height="29.6" viewBox="0 0 11 12"><rect x="2" y="5" width="7" height="5.6" rx="1" fill="none" stroke="#aaa" stroke-width="0.9"/><path d="M3.6 5V3.6A1.9 1.9 0 0 1 7.4 3.6V5" fill="none" stroke="#aaa" stroke-width="0.9"/><circle cx="5.5" cy="7.8" r="0.7" fill="#aaa"/></svg>
<div style="left:3160px;top:3308px;width:242px;height:59.2px;border:2.2px solid #f5a3a8;border-radius:4.8px;box-sizing:border-box;background:#fff"></div>
<div class="t" style="top:3324.4px;font-size:22.384px;line-height:25px;color:#e63946;font-weight:700;transform:scaleX(0.8475);transform-origin:0 50%;left:3241.6px;">EXPORT</div>
<div style="left:3428px;top:3308px;width:243.2px;height:59.2px;background:#e8404d;border-radius:4.8px"></div>
<div class="t" style="top:3322.4px;font-size:24.648px;line-height:27px;color:#fff;font-weight:700;transform:scaleX(0.8475);transform-origin:0 50%;left:3502.8px;">ACTIONS</div>
</div></section>
</main>
</body>
</html>
